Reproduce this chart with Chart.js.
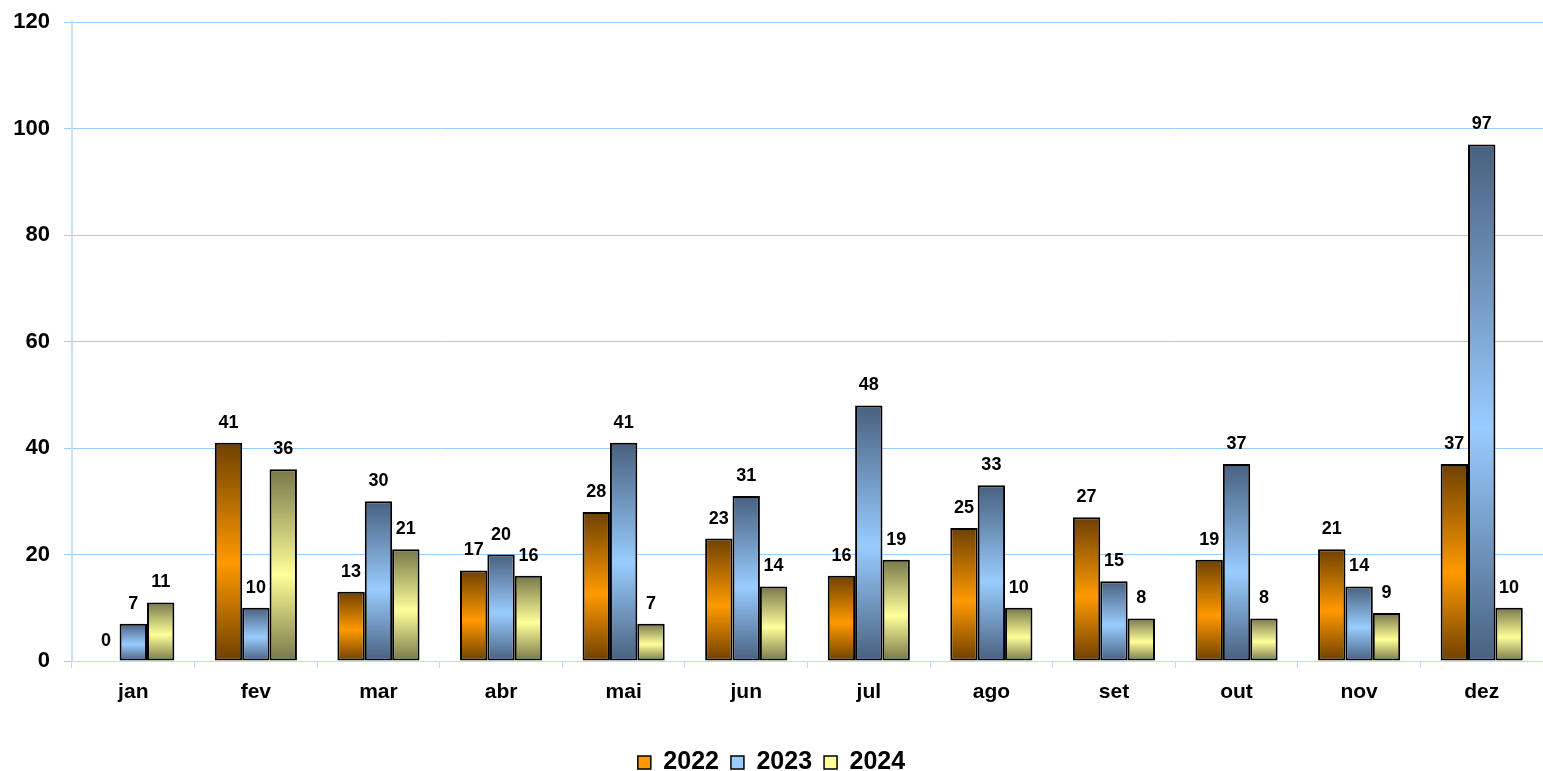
<!DOCTYPE html>
<html>
<head>
<meta charset="utf-8">
<script src="https://cdn.jsdelivr.net/npm/chart.js@4/dist/chart.umd.min.js"></script>
<style>
	html, body { margin: 0; padding: 0; background: #fff; }
	#wrap { width: 1543px; height: 771px; position: relative; }
</style>
</head>
<body>
<div id="wrap"><canvas id="chart1"></canvas></div>
<script>
"use strict";

// data
var months = ["jan", "fev", "mar", "abr", "mai", "jun", "jul", "ago", "set", "out", "nov", "dez"];
var series2022 = [0, 41, 13, 17, 28, 23, 16, 25, 27, 19, 21, 37];
var series2023 = [7, 10, 30, 20, 41, 31, 48, 33, 15, 37, 14, 97];
var series2024 = [11, 36, 21, 16, 7, 14, 19, 10, 8, 8, 9, 10];
var yTicks = [0, 20, 40, 60, 80, 100, 120];

var FONT = '"Liberation Sans", Arial, sans-serif';

// vertical gradient per bar: dark - light - dark
function barFill(dark, light) {
	return function (c) {
		var chart = c.chart;
		if (!chart.chartArea || c.type !== "data") return light;
		var y = chart.scales.y;
		var top = y.getPixelForValue(c.raw), bottom = y.getPixelForValue(0);
		if (bottom - top < 2) return light;
		var g = chart.ctx.createLinearGradient(0, top, 0, bottom);
		g.addColorStop(0, dark);
		g.addColorStop(0.55, light);
		g.addColorStop(1, dark);
		return g;
	};
}

var legendColors = ["#ff9900", "#99ccff", "#ffff99"];

// value labels above bars
var valueLabels = {
	id: "valueLabels",
	afterDatasetsDraw: function (chart) {
		var ctx = chart.ctx;
		ctx.save();
		ctx.font = "bold 18px " + FONT;
		ctx.fillStyle = "#000";
		ctx.textAlign = "center";
		ctx.textBaseline = "alphabetic";
		chart.data.datasets.forEach(function (ds, i) {
			chart.getDatasetMeta(i).data.forEach(function (bar, j) {
				ctx.fillText(ds.data[j], bar.x, bar.y - 15);
			});
		});
		ctx.restore();
	}
};

// pull the legend a bit closer to the bottom edge
var legendFit = {
	id: "legendFit",
	beforeInit: function (chart) {
		var orig = chart.legend.fit;
		chart.legend.fit = function () {
			orig.call(this);
			this.height -= 14;
		};
	}
};

var common = { borderColor: "#000", borderWidth: 2, borderSkipped: false };

new Chart(document.getElementById("chart1"), {
	type: "bar",
	data: {
		labels: months,
		datasets: [
			Object.assign({ label: "2022", data: series2022, backgroundColor: barFill("#6e4000", "#ff9900") }, common),
			Object.assign({ label: "2023", data: series2023, backgroundColor: barFill("#48607e", "#99ccff") }, common),
			Object.assign({ label: "2024", data: series2024, backgroundColor: barFill("#77774a", "#ffff99") }, common)
		]
	},
	options: {
		responsive: true,
		maintainAspectRatio: false,
		animation: false,
		layout: { padding: { top: 22, right: 0, left: 0, bottom: 0 } },
		datasets: { bar: { categoryPercentage: 0.67, barPercentage: 1 } },
		scales: {
			x: {
				grid: { offset: true, drawOnChartArea: false, drawTicks: true, tickLength: 7, color: "#bcdcfc" },
				border: { color: "#bcdcfc", width: 1 },
				ticks: { color: "#000", font: { family: FONT, size: 21, weight: "bold" }, padding: 12 },
				afterFit: function (s) { s.height = 77; }
			},
			y: {
				min: 0, max: 120,
				afterBuildTicks: function (s) { s.ticks = yTicks.map(function (v) { return { value: v }; }); },
				grid: { color: "#99ccff", tickLength: 8 },
				border: { color: "#c6e0fc", width: 2 },
				ticks: { color: "#000", font: { family: FONT, size: 22, weight: "bold" }, padding: 14 },
				afterFit: function (s) { s.width = 72; s.paddingTop = 0; s.paddingBottom = 0; }
			}
		},
		plugins: {
			tooltip: { enabled: false },
			legend: {
				position: "bottom",
				labels: {
					color: "#000",
					font: { family: FONT, size: 25, weight: "bold" },
					boxWidth: 13, boxHeight: 13, padding: 12,
					generateLabels: function (chart) {
						return chart.data.datasets.map(function (ds, i) {
							return { text: ds.label, fillStyle: legendColors[i], strokeStyle: "#000", lineWidth: 1.5, hidden: false, datasetIndex: i, fontColor: "#000" };
						});
					}
				}
			}
		}
	},
	plugins: [valueLabels, legendFit]
});
</script>
</body>
</html>
